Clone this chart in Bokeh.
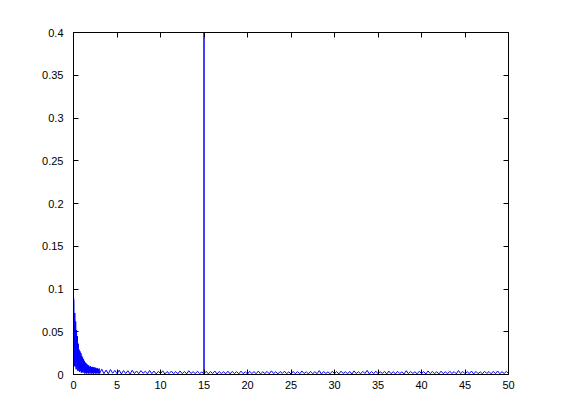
import numpy as np
from bokeh.plotting import figure
from bokeh.models import LinearAxis, FixedTicker, CustomJSTickFormatter, Range1d
from bokeh.embed import file_html
from bokeh.resources import INLINE

# ---- data ----
freq_lo = np.round(np.arange(0, 3.0001, 0.05), 2)
mag_lo = [0.090, 0.087, 0.010, 0.072, 0.009, 0.062, 0.006, 0.052, 0.007, 0.045,
          0.004, 0.036, 0.005, 0.029, 0.003, 0.027, 0.004, 0.025, 0.002, 0.022,
          0.003, 0.020, 0.002, 0.018, 0.003, 0.016, 0.001, 0.014, 0.002, 0.013,
          0.001, 0.012, 0.002, 0.011, 0.001, 0.0105, 0.002, 0.009, 0.001, 0.0098,
          0.002, 0.0085, 0.001, 0.009, 0.0015, 0.008, 0.001, 0.0088, 0.002, 0.0075,
          0.001, 0.008, 0.0015, 0.007, 0.001, 0.0072, 0.002, 0.0065, 0.001, 0.0070,
          0.0012]

freq_hi = np.round(np.arange(3.25, 50.0001, 0.25), 2)
mag_hi = [
    0.0062, 0.0010, 0.0052, 0.0008, 0.0058, 0.0015, 0.0048, 0.0010, 0.0050, 0.0007, 0.0046, 0.0012,
    0.0044, 0.0006, 0.0049, 0.0011, 0.0041, 0.0009, 0.0045, 0.0014, 0.0038, 0.0008, 0.0047, 0.0010,
    0.0040, 0.0007, 0.0036, 0.0012, 0.0043, 0.0006, 0.0035, 0.0011, 0.0039, 0.0009, 0.0034, 0.0008,
    0.0041, 0.0010, 0.0036, 0.0007, 0.0044, 0.0012, 0.0033, 0.0009, 0.0038, 0.0011, 0.0030, 0.0010,
    0.0037, 0.0008, 0.0034, 0.0012, 0.0040, 0.0006, 0.0035, 0.0010, 0.0032, 0.0009, 0.0038, 0.0007,
    0.0036, 0.0011, 0.0033, 0.0008, 0.0039, 0.0010, 0.0031, 0.0006, 0.0037, 0.0012, 0.0034, 0.0009,
    0.0040, 0.0007, 0.0032, 0.0011, 0.0036, 0.0008, 0.0043, 0.0010, 0.0033, 0.0007, 0.0035, 0.0012,
    0.0038, 0.0009, 0.0031, 0.0006, 0.0036, 0.0010, 0.0034, 0.0008, 0.0041, 0.0011, 0.0032, 0.0007,
    0.0037, 0.0010, 0.0033, 0.0009, 0.0045, 0.0006, 0.0035, 0.0011, 0.0031, 0.0008, 0.0038, 0.0010,
    0.0034, 0.0007, 0.0039, 0.0012, 0.0032, 0.0009, 0.0036, 0.0006, 0.0042, 0.0010, 0.0033, 0.0008,
    0.0037, 0.0011, 0.0048, 0.0007, 0.0034, 0.0010, 0.0039, 0.0009, 0.0032, 0.0012, 0.0036, 0.0006,
    0.0040, 0.0010, 0.0033, 0.0008, 0.0037, 0.0011, 0.0031, 0.0007, 0.0044, 0.0009, 0.0035, 0.0012,
    0.0032, 0.0008, 0.0038, 0.0010, 0.0034, 0.0006, 0.0041, 0.0011, 0.0036, 0.0009, 0.0033, 0.0007,
    0.0039, 0.0010, 0.0032, 0.0009, 0.0037, 0.0012, 0.0034, 0.0008, 0.0046, 0.0010, 0.0035, 0.0009,
    0.0033, 0.0011, 0.0040, 0.0007, 0.0036, 0.0010, 0.0031, 0.0008, 0.0038, 0.0012, 0.0034, 0.0008,
    0.0037, 0.0010, 0.0041, 0.0009, 0.0033, 0.0011, 0.0036, 0.0010,
]

# narrow tone peak at 15 (clipped above the axis limit)
spike_freq = [14.999, 15.0, 15.001]
spike_mag = [0.0008, 0.5, 0.0009]

x_ticks = [0, 5, 10, 15, 20, 25, 30, 35, 40, 45, 50]
y_ticks = [0, 0.05, 0.1, 0.15, 0.2, 0.25, 0.3, 0.35, 0.4]

pairs = list(zip(freq_lo, mag_lo)) + list(zip(freq_hi, mag_hi)) + list(zip(spike_freq, spike_mag))
pairs = [pr for pr in pairs if not (pr[0] == 15.0 and pr[1] < 0.1)]
pairs.sort(key=lambda t: t[0])
freq = [a for a, b in pairs]
mag = [b for a, b in pairs]

p = figure(width=553, height=412, output_backend="svg", toolbar_location=None,
           x_range=Range1d(0, 50), y_range=Range1d(0, 0.4),
           min_border_left=73, min_border_right=45, min_border_top=32, min_border_bottom=38,
           x_axis_location=None, y_axis_location=None)
p.background_fill_color = "white"
p.border_fill_color = "white"
p.outline_line_color = "black"
p.outline_line_width = 1
p.xgrid.visible = False
p.ygrid.visible = False

p.line(freq, mag, line_color="#0000ff", line_width=1)

fmt = CustomJSTickFormatter(code="return String(parseFloat(tick.toFixed(4)));")
blank = CustomJSTickFormatter(code="return '';")
FONT = "Liberation Sans"

def style(ax, labels):
    ax.axis_line_color = "black"
    ax.major_tick_in = 5
    ax.major_tick_out = 0
    ax.major_tick_line_color = "black"
    ax.minor_tick_line_color = None
    ax.major_label_text_font = FONT
    ax.major_label_text_font_size = "11px"
    ax.major_label_text_color = "black"
    if labels:
        ax.formatter = fmt
    else:
        ax.formatter = blank
        ax.major_label_standoff = 0

bx = LinearAxis(ticker=FixedTicker(ticks=x_ticks))
style(bx, True)
bx.major_label_standoff = 6
p.add_layout(bx, "below")

ly = LinearAxis(ticker=FixedTicker(ticks=y_ticks))
style(ly, True)
ly.major_label_standoff = 10
p.add_layout(ly, "left")

tx = LinearAxis(ticker=FixedTicker(ticks=x_ticks))
style(tx, False)
p.add_layout(tx, "above")

ry = LinearAxis(ticker=FixedTicker(ticks=y_ticks))
style(ry, False)
p.add_layout(ry, "right")

open("out.html", "w").write(file_html(p, INLINE))
